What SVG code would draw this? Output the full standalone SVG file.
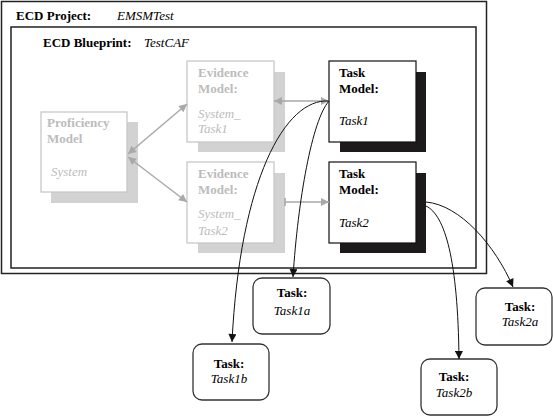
<svg xmlns="http://www.w3.org/2000/svg" width="553" height="416" viewBox="0 0 553 416">
<style>
text{font-family:'Liberation Serif','DejaVu Serif',serif;font-size:13px}
.b{font-weight:bold}
.i{font-style:italic}
.g{fill:#bcbcbc}
.frame{fill:none;stroke:#222;stroke-width:1.5}
.gbox{fill:#fff;stroke:#c8c8c8;stroke-width:1.3}
.gsh{fill:#d2d2d2}
.kbox{fill:#fff;stroke:#111;stroke-width:1.2}
.ksh{fill:#1c1a1b}
.tbox{fill:#fff;stroke:#333;stroke-width:1.3}
.ga{fill:none;stroke:#a9a9a9;stroke-width:1.5}
.ka{fill:none;stroke:#111;stroke-width:1}
</style>
<defs>
<marker id="gh" viewBox="0 0 10 10" refX="10" refY="5" markerWidth="10" markerHeight="8" markerUnits="userSpaceOnUse" orient="auto-start-reverse"><path d="M0,0L10,5L0,10z" fill="#a9a9a9"/></marker>
<marker id="gt" viewBox="0 0 2 10" refX="1" refY="5" markerWidth="2" markerHeight="8" markerUnits="userSpaceOnUse" orient="auto"><path d="M0,0H2V10H0z" fill="#a9a9a9"/></marker>
<marker id="kh" viewBox="0 0 10 10" refX="10" refY="5" markerWidth="10" markerHeight="8" markerUnits="userSpaceOnUse" orient="auto"><path d="M0,0L10,5L0,10z" fill="#111"/></marker>
</defs>
<rect width="553" height="416" fill="#fff"/>
<g font-family="Liberation Serif, DejaVu Serif, serif" font-size="13">
<g id="project">
<rect class="frame" x="1.5" y="1.5" width="485" height="272"/>
<text x="16" y="20" class="b">ECD Project:</text>
<text x="117" y="20" class="i">EMSMTest</text>
</g>
<g id="blueprint">
<rect class="frame" x="11" y="27" width="465" height="241"/>
<text x="43" y="47" class="b">ECD Blueprint:</text>
<text x="144" y="47" class="i">TestCAF</text>
</g>
<g id="proficiency">
<rect class="gsh" x="51" y="122" width="87" height="81"/>
<rect class="gbox" x="41" y="112" width="86" height="80"/>
<text x="47" y="127" class="b g">Proficiency</text>
<text x="47" y="143" class="b g">Model</text>
<text x="51" y="176" class="i g">System</text>
</g>
<g id="evidence1">
<rect class="gsh" x="198" y="72" width="87" height="80"/>
<rect class="gbox" x="187" y="61" width="87" height="81"/>
<text x="198" y="77" class="b g">Evidence</text>
<text x="198" y="93" class="b g">Model:</text>
<text x="198" y="118" class="i g">System_</text>
<text x="198" y="133" class="i g">Task1</text>
</g>
<g id="evidence2">
<rect class="gsh" x="198" y="173" width="87" height="80"/>
<rect class="gbox" x="187" y="162" width="87" height="81"/>
<text x="198" y="178" class="b g">Evidence</text>
<text x="198" y="194" class="b g">Model:</text>
<text x="198" y="218" class="i g">System_</text>
<text x="198" y="235" class="i g">Task2</text>
</g>
<g id="taskmodel1">
<rect class="ksh" x="340" y="72" width="86" height="80"/>
<rect class="kbox" x="329" y="61" width="87" height="81"/>
<text x="339" y="77" class="b">Task</text>
<text x="339" y="93" class="b">Model:</text>
<text x="339" y="125" class="i">Task1</text>
</g>
<g id="taskmodel2">
<rect class="ksh" x="340" y="173" width="86" height="80"/>
<rect class="kbox" x="329" y="162" width="87" height="81"/>
<text x="339" y="178" class="b">Task</text>
<text x="339" y="194" class="b">Model:</text>
<text x="339" y="227" class="i">Task2</text>
</g>
<g id="task1a">
<rect class="tbox" x="253" y="278" width="77" height="56" rx="9"/>
<text x="292" y="297" class="b" text-anchor="middle">Task:</text>
<text x="292" y="315" class="i" text-anchor="middle">Task1a</text>
</g>
<g id="task1b">
<rect class="tbox" x="193" y="344" width="76" height="56" rx="9"/>
<text x="229" y="368" class="b" text-anchor="middle">Task:</text>
<text x="229" y="383" class="i" text-anchor="middle">Task1b</text>
</g>
<g id="task2a">
<rect class="tbox" x="476" y="288" width="76" height="57" rx="9"/>
<text x="520" y="311" class="b" text-anchor="middle">Task:</text>
<text x="520" y="326" class="i" text-anchor="middle">Task2a</text>
</g>
<g id="task2b">
<rect class="tbox" x="421" y="359" width="76" height="56" rx="9"/>
<text x="454" y="381" class="b" text-anchor="middle">Task:</text>
<text x="454" y="397" class="i" text-anchor="middle">Task2b</text>
</g>
</g>
<g id="connectors">
<path class="ga" d="M128,154L187,104" marker-start="url(#gh)" marker-end="url(#gh)"/>
<path class="ga" d="M128,157L187,202" marker-start="url(#gh)" marker-end="url(#gh)"/>
<path class="ga" d="M274,101L329,101" marker-start="url(#gh)" marker-end="url(#gh)"/>
<path class="ga" d="M285,202L329,202" marker-start="url(#gt)" marker-end="url(#gh)"/>
<path class="ka" d="M329,101C285,98 240,180 232,342" marker-end="url(#kh)"/>
<path class="ka" d="M329,101C312,120 298,200 293,277" marker-end="url(#kh)"/>
<path class="ka" d="M426,202C460,205 495,245 513,287" marker-end="url(#kh)"/>
<path class="ka" d="M426,206C445,215 458,260 459,359" marker-end="url(#kh)"/>
</g>
</svg>
